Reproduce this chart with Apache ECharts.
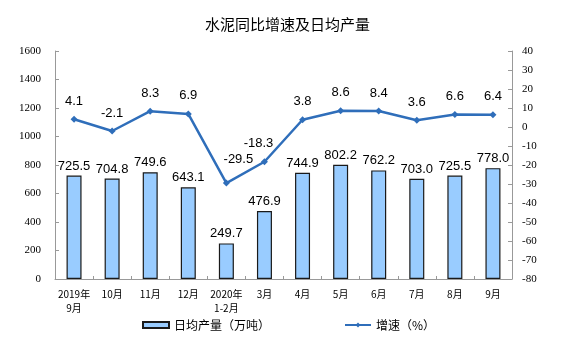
<!DOCTYPE html>
<html><head><meta charset="utf-8">
<script src="https://cdn.jsdelivr.net/npm/echarts@6/dist/echarts.min.js"></script>
<style>html,body{margin:0;padding:0;background:#fff}#c{width:575px;height:338px}</style>
</head><body><div id="c"></div>
<script>
const categories = ['2019年\n9月','10月','11月','12月','2020年\n1-2月','3月','4月','5月','6月','7月','8月','9月'];
const output = [725.5, 704.8, 749.6, 643.1, 249.7, 476.9, 744.9, 802.2, 762.2, 703.0, 725.5, 778.0];
const growth = [4.1, -2.1, 8.3, 6.9, -29.5, -18.3, 3.8, 8.6, 8.4, 3.6, 6.6, 6.4];
const barName = '日均产量（万吨）';
const lineName = '增速（%）';

const chart = echarts.init(document.getElementById('c'), null, {renderer:'canvas'});
const cjk = '"Noto Sans CJK SC", sans-serif';
const lineData = growth.map((v, i) => {
  if (i === 4) return {value: v, label: {offset: [12, -6]}};
  if (i === 5) return {value: v, label: {offset: [-6, 0]}};
  return v;
});
chart.setOption({
  animation:false,
  title:{text:'水泥同比增速及日均产量', left:'center', top:12,
    textStyle:{fontFamily:cjk, fontSize:15, fontWeight:'normal', color:'#000'}},
  grid:{left:55, right:63, top:51, bottom:59},
  legend:{left:137, top:314, itemGap:74, itemWidth:26, itemHeight:6,
    textStyle:{fontFamily:cjk, fontSize:12, color:'#000'},
    data:[{name:barName, icon:'rect'}, {name:lineName}]},
  xAxis:{type:'category', data:categories,
    axisLine:{lineStyle:{color:'#999'}},
    axisTick:{show:true, inside:true, length:3, lineStyle:{color:'#999'}},
    axisLabel:{fontFamily:cjk, fontSize:10, color:'#000', margin:8, lineHeight:14, interval:0}},
  yAxis:[
    {type:'value', min:0, max:1600, interval:200,
     axisLine:{show:true, lineStyle:{color:'#999'}},
     axisTick:{show:true, inside:true, length:4, lineStyle:{color:'#999'}},
     splitLine:{show:false},
     axisLabel:{fontFamily:'"Liberation Serif", serif', fontSize:11, color:'#000', margin:14,
       formatter:v=>String(v)}},
    {type:'value', min:-80, max:40, interval:10,
     axisLine:{show:true, lineStyle:{color:'#999'}},
     axisTick:{show:true, inside:true, length:4, lineStyle:{color:'#999'}},
     splitLine:{show:false},
     axisLabel:{fontFamily:'"Liberation Serif", serif', fontSize:11, color:'#000', margin:10,
       formatter:v=>(v<0?'-':'')+String(Math.abs(v))}}
  ],
  series:[
    {name:barName, type:'bar', data:output, barWidth:15, yAxisIndex:0,
     itemStyle:{color:'#99CCFF', borderColor:'#1a1a1a', borderWidth:1.2},
     label:{show:true, position:'top', formatter:p=>p.value.toFixed(1),
       fontFamily:'"Liberation Sans", Arial', fontSize:13, color:'#000', distance:3}},
    {name:lineName, type:'line', data:lineData, yAxisIndex:1,
     symbol:'diamond', symbolSize:7,
     lineStyle:{color:'#2F6EBA', width:2.5},
     itemStyle:{color:'#2F6EBA'},
     label:{show:true, position:'top', formatter:p=>p.value.toFixed(1),
       fontFamily:'"Liberation Sans", Arial', fontSize:13, color:'#000', distance:8}}
  ]
});
</script></body></html>
